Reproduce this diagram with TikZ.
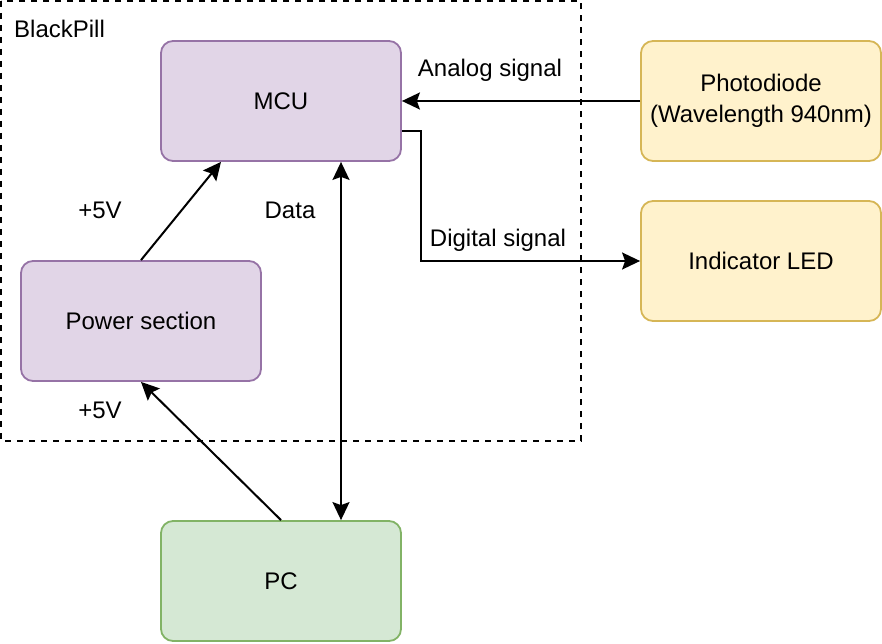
\documentclass[tikz,border=0pt]{standalone}
\usepackage{fontspec}
\setmainfont{Liberation Sans}
\usetikzlibrary{arrows.meta}
\definecolor{purplefill}{HTML}{E1D5E7}
\definecolor{purpleline}{HTML}{9673A6}
\definecolor{yellowfill}{HTML}{FFF2CC}
\definecolor{yellowline}{HTML}{D6B656}
\definecolor{greenfill}{HTML}{D5E8D4}
\definecolor{greenline}{HTML}{82B366}
\tikzset{
  block/.style={draw,line width=1.8pt,rounded corners=12pt,minimum width=240pt,minimum height=120pt,align=center,inner sep=0pt},
  purpleblock/.style={block,fill=purplefill,draw=purpleline},
  yellowblock/.style={block,fill=yellowfill,draw=yellowline},
  greenblock/.style={block,fill=greenfill,draw=greenline},
  link/.style={line width=2pt,-{Stealth[length=18pt,width=17pt,inset=3pt]}},
  biglink/.style={line width=2pt,{Stealth[length=18pt,width=17pt,inset=3pt]}-{Stealth[length=18pt,width=17pt,inset=3pt]}},
  lbl/.style={inner sep=0pt}
}
\begin{document}
\begin{tikzpicture}[x=1pt,y=-1pt,font=\fontsize{24}{31}\selectfont]
   \useasboundingbox (0,0) rectangle (882,644);
   \draw[line width=2pt,dash pattern=on 6pt off 6pt] (1,1) rectangle (581,441);
   \node[lbl,anchor=west] (blackpill) at (14,29) {BlackPill};
   \node[purpleblock] (mcu) at (281,101) {MCU};
   \node[purpleblock] (power) at (141,321) {Power section};
   \node[greenblock] (pc) at (281,581) {PC};
   \node[yellowblock] (diode) at (761,101) {Photodiode\\(Wavelength 940nm)};
   \node[yellowblock] (led) at (761,261) {Indicator LED};
   \draw[link] (diode.west) -- (mcu.east);
   \node[lbl] (analog) at (490,70) {Analog signal};
   \draw[link] ([yshift=-30pt]mcu.east) -| (421,261) -- (led.west);
   \node[lbl] (digital) at (498,240) {Digital signal};
   \draw[link] (power.north) -- ([xshift=-60pt]mcu.south);
   \node[lbl] (vmcu) at (100,210) {+5V};
   \draw[link] (pc.north) -- (power.south);
   \node[lbl] (vpc) at (100,410) {+5V};
   \draw[biglink] ([xshift=60pt]pc.north) -- ([xshift=60pt]mcu.south);
   \node[lbl] (data) at (290,210) {Data};
\end{tikzpicture}
\end{document}
